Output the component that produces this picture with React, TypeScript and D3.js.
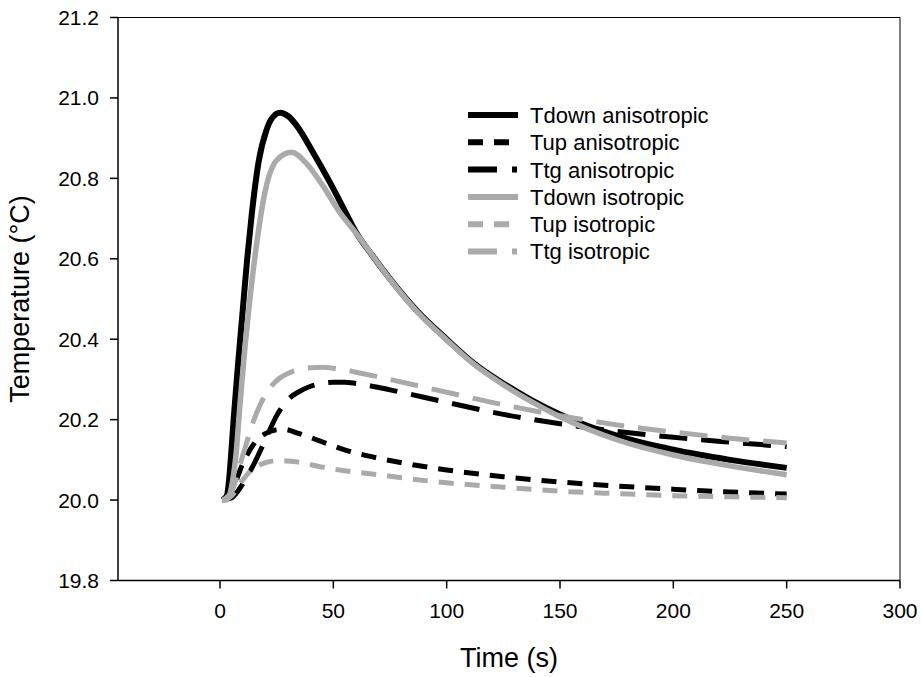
import React from "react";
import * as d3 from "d3";

// Time axis (s)
const tDownAniso = [1, 3, 4, 5, 6, 8, 10, 12, 14, 17, 20.5, 23, 26.5, 30, 34, 41, 48.5, 55, 60, 67.5, 75, 87, 100, 112, 125, 137, 150, 175, 200, 225, 250];
const vDownAniso = [20.0, 20.01, 20.05, 20.12, 20.2, 20.34, 20.47, 20.6, 20.71, 20.84, 20.92, 20.95, 20.963, 20.955, 20.93, 20.865, 20.79, 20.72, 20.666, 20.606, 20.55, 20.47, 20.4, 20.34, 20.29, 20.25, 20.213, 20.16, 20.125, 20.1, 20.08];

const tDownIso = [1, 3, 5, 7, 9, 11, 13, 16, 20, 25, 31.5, 38, 45, 53, 60, 67.5, 75, 87, 100, 112, 125, 137, 150, 175, 200, 225, 250];
const vDownIso = [20.0, 20.0, 20.03, 20.11, 20.25, 20.38, 20.49, 20.63, 20.77, 20.845, 20.865, 20.838, 20.785, 20.714, 20.664, 20.606, 20.549, 20.468, 20.398, 20.338, 20.287, 20.246, 20.207, 20.15, 20.112, 20.085, 20.063];

const tUp = [1, 5, 10, 15, 20, 25, 28, 35, 45, 55, 70, 85, 100, 125, 150, 175, 200, 225, 250];
const vUpAniso = [20.0, 20.02, 20.09, 20.14, 20.165, 20.175, 20.176, 20.165, 20.145, 20.125, 20.104, 20.088, 20.075, 20.058, 20.045, 20.035, 20.027, 20.02, 20.015];
const vUpIso = [20.0, 20.01, 20.05, 20.08, 20.093, 20.098, 20.098, 20.094, 20.082, 20.073, 20.063, 20.052, 20.043, 20.032, 20.022, 20.016, 20.011, 20.008, 20.006];

const tTg = [1, 5, 10, 15, 20, 25, 30, 35, 40, 45, 50, 55, 60, 75, 100, 125, 150, 175, 200, 225, 250];
const vTgAniso = [20.0, 20.005, 20.04, 20.09, 20.15, 20.21, 20.25, 20.27, 20.283, 20.29, 20.293, 20.293, 20.29, 20.274, 20.243, 20.213, 20.19, 20.171, 20.156, 20.144, 20.133];
const vTgIso = [20.0, 20.02, 20.11, 20.2, 20.262, 20.297, 20.315, 20.325, 20.329, 20.33, 20.328, 20.324, 20.318, 20.3, 20.268, 20.237, 20.21, 20.187, 20.169, 20.154, 20.142];

const xTicks = [0, 50, 100, 150, 200, 250, 300];
const yTicks = [19.8, 20.0, 20.2, 20.4, 20.6, 20.8, 21.0, 21.2];

const seriesNames = ["Tdown anisotropic", "Tup anisotropic", "Ttg anisotropic", "Tdown isotropic", "Tup isotropic", "Ttg isotropic"];

type Series = {
  name: string;
  t: number[];
  v: number[];
  color: string;
  width: number;
  dash: string | null;
  legendDash: string | null;
};

const BLACK = "#000000";
const GRAY = "#aaaaaa";
const UP_DASH = "15 11";
const TG_DASH = "28 14";
const TG_LEGEND_DASH = "29 15 5 60";

const series: Series[] = [
  { name: seriesNames[0], t: tDownAniso, v: vDownAniso, color: BLACK, width: 6, dash: null, legendDash: null },
  { name: seriesNames[1], t: tUp, v: vUpAniso, color: BLACK, width: 5, dash: UP_DASH, legendDash: UP_DASH },
  { name: seriesNames[2], t: tTg, v: vTgAniso, color: BLACK, width: 5, dash: TG_DASH, legendDash: TG_LEGEND_DASH },
  { name: seriesNames[3], t: tDownIso, v: vDownIso, color: GRAY, width: 5.5, dash: null, legendDash: null },
  { name: seriesNames[4], t: tUp, v: vUpIso, color: GRAY, width: 5, dash: UP_DASH, legendDash: UP_DASH },
  { name: seriesNames[5], t: tTg, v: vTgIso, color: GRAY, width: 5, dash: TG_DASH, legendDash: TG_LEGEND_DASH },
];

const W = 921;
const H = 677;
const left = 118;
const right = 900;
const top = 17.5;
const bottom = 580.5;
const FONT = "'Liberation Sans', Arial, Helvetica, sans-serif";

export default function App() {
  const x = d3.scaleLinear().domain([-45, 300]).range([left, right]);
  const y = d3.scaleLinear().domain([19.8, 21.2]).range([bottom, top]);

  const line = d3
    .line<[number, number]>()
    .x((d) => x(d[0]))
    .y((d) => y(d[1]))
    .curve(d3.curveMonotoneX);

  const legendX0 = 468;
  const legendX1 = 518;
  const legendTextX = 530;
  const legendY0 = 115;
  const legendStep = 27.3;

  return (
    <svg
      width={W}
      height={H}
      viewBox={`0 0 ${W} ${H}`}
      style={{ position: "absolute", left: 0, top: 0, background: "#fff" }}
      fontFamily={FONT}
    >
      <rect x={0} y={0} width={W} height={H} fill="#fff" />

      {/* plot frame */}
      <line x1={left} y1={top} x2={right} y2={top} stroke="#000" strokeWidth={1} />
      <line x1={right} y1={top} x2={right} y2={bottom} stroke="#000" strokeWidth={1} />
      <line x1={left} y1={top} x2={left} y2={bottom} stroke="#000" strokeWidth={1.5} />
      <line x1={left} y1={bottom} x2={right} y2={bottom} stroke="#000" strokeWidth={1.5} />

      {/* y axis */}
      {yTicks.map((v) => (
        <g key={`y${v}`}>
          <line x1={left - 8} x2={left} y1={y(v)} y2={y(v)} stroke="#000" strokeWidth={1.5} />
          <text x={left - 19} y={y(v)} dy="0.36em" textAnchor="end" fontSize={21} fill="#000">
            {v.toFixed(1)}
          </text>
        </g>
      ))}

      {/* x axis */}
      {xTicks.map((t) => (
        <g key={`x${t}`}>
          <line x1={x(t)} x2={x(t)} y1={bottom} y2={bottom + 8} stroke="#000" strokeWidth={1.5} />
          <text x={x(t)} y={618} textAnchor="middle" fontSize={21} fill="#000">
            {t}
          </text>
        </g>
      ))}

      <text x={(left + right) / 2} y={667} textAnchor="middle" fontSize={27} fill="#000">
        Time (s)
      </text>
      <text
        transform={`translate(29, ${(top + bottom) / 2}) rotate(-90)`}
        textAnchor="middle"
        fontSize={27}
        fill="#000"
      >
        Temperature (°C)
      </text>

      {/* curves */}
      {series.map((s) => (
        <path
          key={s.name}
          d={line(s.t.map((t, i) => [t, s.v[i]] as [number, number])) || ""}
          fill="none"
          stroke={s.color}
          strokeWidth={s.width}
          strokeDasharray={s.dash ?? undefined}
          strokeLinecap="butt"
          strokeLinejoin="round"
        />
      ))}

      {/* legend */}
      {series.map((s, i) => {
        const ly = legendY0 + i * legendStep;
        return (
          <g key={`lg${s.name}`}>
            <line
              x1={legendX0}
              x2={legendX1}
              y1={ly}
              y2={ly}
              stroke={s.color}
              strokeWidth={6}
              strokeDasharray={s.legendDash ?? undefined}
            />
            <text x={legendTextX} y={ly} dy="0.36em" fontSize={22} fill="#000">
              {s.name}
            </text>
          </g>
        );
      })}
    </svg>
  );
}
